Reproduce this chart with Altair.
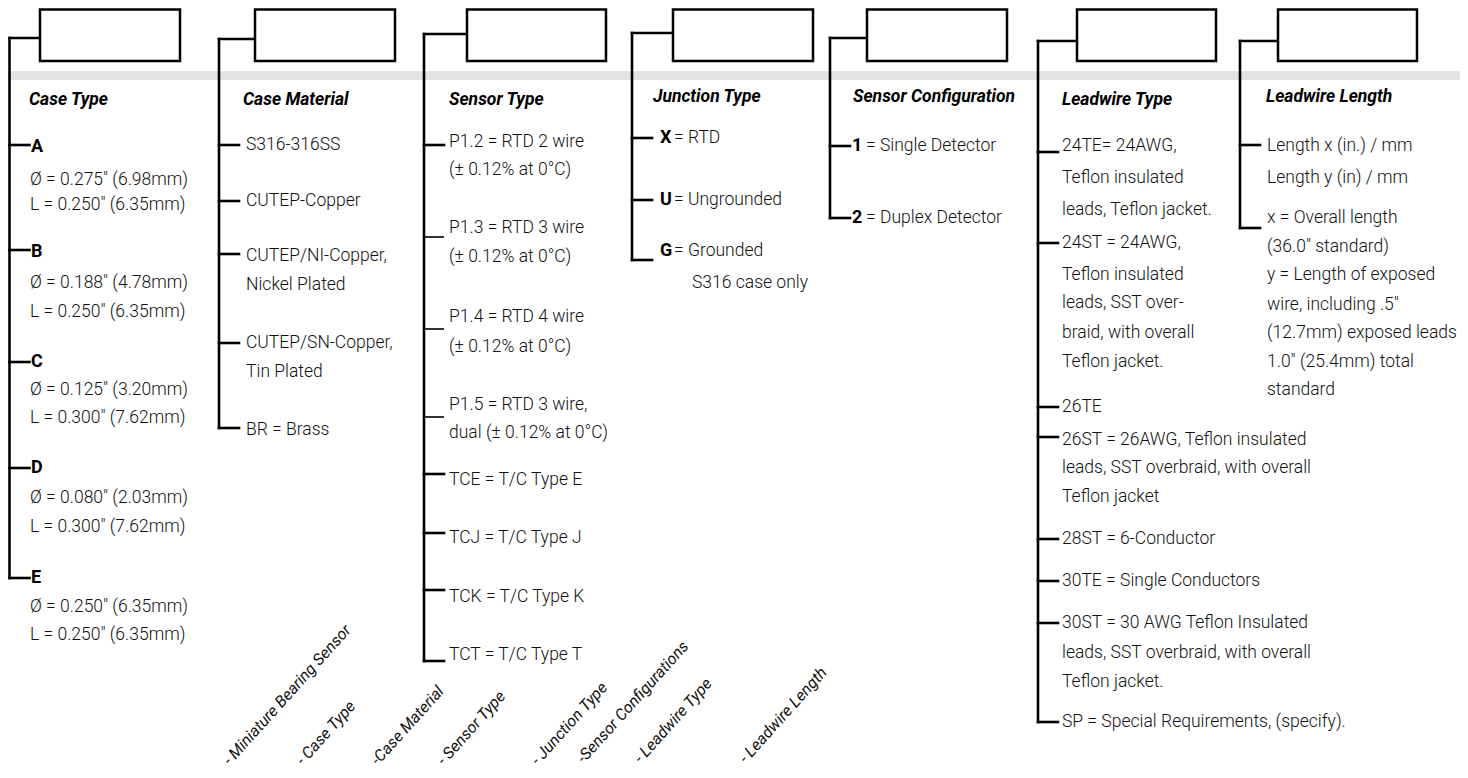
import altair as alt
import pandas as pd

FONT = "Roboto, Liberation Sans, sans-serif"

# ---- header boxes (one per code position) ----
box_left = [40, 255, 467, 673, 867, 1077, 1278]
box_right = [180, 395, 606, 813, 1007, 1216, 1417]
box_top = [9.5] * 7
box_bottom = [61] * 7

# ---- bracket spines ----
bracket_x = [9.5, 219, 424, 632, 830, 1038, 1240]
bracket_top = [38, 39, 34, 33, 38, 41, 41]
bracket_bottom = [578, 428, 661, 260, 218, 722, 228]

# ---- tick positions on each spine (column index, y) ----
tick_col = [0, 0, 0, 0, 0,
            1, 1, 1, 1, 1,
            2, 2, 2, 2, 2, 2, 2, 2,
            3, 3, 3,
            4, 4,
            5, 5, 5, 5, 5, 5, 5, 5,
            6, 6]
tick_y = [145, 250, 362, 468, 578,
          145, 201, 254, 343, 428,
          145, 237, 329, 417, 474, 533, 590, 661,
          138, 200, 260,
          146, 218,
          152, 243, 407, 437, 539, 581, 623, 722,
          145, 228]
thin_tick = [False] * 11 + [True, True, True] + [False] * 19

# ---- column titles ----
titles = ["Case Type", "Case Material", "Sensor Type", "Junction Type",
          "Sensor Configuration", "Leadwire Type", "Leadwire Length"]
title_x = [29, 243, 449, 653, 853, 1062, 1266]
title_y = [100, 100, 100, 97, 97, 100, 97]

# ---- bold codes ----
bold_text = ["A", "B", "C", "D", "E", "X", "U", "G", "1", "2"]
bold_x = [31, 31, 31, 31, 31, 660, 660, 660, 852, 852]
bold_y = [147, 252, 362, 468, 578, 138, 200, 251, 146, 218]

# ---- plain descriptions ----
body_text = [
    "Ø = 0.275″ (6.98mm)", "L = 0.250″ (6.35mm)",
    "Ø = 0.188″ (4.78mm)", "L = 0.250″ (6.35mm)",
    "Ø = 0.125″ (3.20mm)", "L = 0.300″ (7.62mm)",
    "Ø = 0.080″ (2.03mm)", "L = 0.300″ (7.62mm)",
    "Ø = 0.250″ (6.35mm)", "L = 0.250″ (6.35mm)",
    "S316-316SS", "CUTEP-Copper", "CUTEP/NI-Copper,", "Nickel Plated",
    "CUTEP/SN-Copper,", "Tin Plated", "BR = Brass",
    "P1.2 = RTD 2 wire", "(± 0.12% at 0°C)",
    "P1.3 = RTD 3 wire", "(± 0.12% at 0°C)",
    "P1.4 = RTD 4 wire", "(± 0.12% at 0°C)",
    "P1.5 = RTD 3 wire,", "dual (± 0.12% at 0°C)",
    "TCE = T/C Type E", "TCJ = T/C Type J", "TCK = T/C Type K", "TCT = T/C Type T",
    "= RTD", "= Ungrounded", "= Grounded", "S316 case only",
    "= Single Detector", "= Duplex Detector",
    "24TE= 24AWG,", "Teflon insulated", "leads, Teflon jacket.",
    "24ST = 24AWG,", "Teflon insulated", "leads, SST over-", "braid, with overall", "Teflon jacket.",
    "26TE",
    "26ST = 26AWG, Teflon insulated", "leads, SST overbraid, with overall", "Teflon jacket",
    "28ST = 6-Conductor", "30TE = Single Conductors",
    "30ST = 30 AWG Teflon Insulated", "leads, SST overbraid, with overall", "Teflon jacket.",
    "SP = Special Requirements, (specify).",
    "Length x (in.) / mm", "Length y (in) / mm", "x = Overall length", "(36.0″ standard)",
    "y = Length of exposed", "wire, including .5″", "(12.7mm) exposed leads",
    "1.0″ (25.4mm) total", "standard",
]
body_x = ([30] * 10 + [246] * 7 + [449] * 12 + [674, 674, 674, 692] + [866, 866]
          + [1062] * 18 + [1267] * 9)
body_y = [180, 205, 283, 312, 390, 418, 498, 527, 607, 635,
          145, 201, 256, 285, 343, 372, 430,
          142, 170, 228, 257, 317, 347, 405, 433, 480, 538, 597, 655,
          138, 200, 251, 283,
          146, 218,
          146, 178, 210, 243, 275, 303, 333, 362, 407, 440, 468, 497,
          539, 581, 623, 653, 682, 722,
          146, 178, 218, 247, 275, 305, 333, 362, 390]

# ---- slanted legend along the bottom ----
slant_text = ["- Miniature Bearing Sensor", "- Case Type", "-Case Material", "- Sensor Type",
              "- Junction Type", "-Sensor Configurations", "- Leadwire Type", "- Leadwire Length"]
slant_x = [230, 303, 378, 444, 538, 584, 641, 746]
slant_y = [766, 766, 766, 766, 766, 764, 764, 764]

# ---------- build tables ----------
xs = alt.Scale(domain=[8, 1460], nice=False, zero=False)
ys = alt.Scale(domain=[8, 770], reverse=True, nice=False, zero=False)

def X(f):
    return alt.X(f, type="quantitative", scale=xs, axis=None)

def Y(f):
    return alt.Y(f, type="quantitative", scale=ys, axis=None)

band = pd.DataFrame({"x": [8], "x2": [1460], "y": [71], "y2": [80]})
boxes = pd.DataFrame({"x": box_left, "x2": box_right, "y": box_top, "y2": box_bottom})

rules = []
for i, bx in enumerate(bracket_x):
    rules.append({"x": bx, "x2": bx, "y": bracket_top[i], "y2": bracket_bottom[i], "thin": False})
    rules.append({"x": bx, "x2": box_left[i], "y": bracket_top[i], "y2": bracket_top[i], "thin": False})
for c, ty, th in zip(tick_col, tick_y, thin_tick):
    bx = bracket_x[c]
    rules.append({"x": bx, "x2": bx + 20, "y": ty, "y2": ty, "thin": th})
rules = pd.DataFrame(rules)

titles_df = pd.DataFrame({"t": titles, "x": title_x, "y": title_y})
bold_df = pd.DataFrame({"t": bold_text, "x": bold_x, "y": bold_y})
body_df = pd.DataFrame({"t": body_text, "x": body_x, "y": body_y})
slant_df = pd.DataFrame({"t": slant_text, "x": slant_x, "y": slant_y})

band_layer = alt.Chart(band).mark_rect(color="#e3e3e3").encode(
    x=X("x"), x2="x2", y=Y("y"), y2="y2")
box_layer = alt.Chart(boxes).mark_rect(fill="white", stroke="black", strokeWidth=2.5).encode(
    x=X("x"), x2="x2", y=Y("y"), y2="y2")
rule_thick = alt.Chart(rules[~rules["thin"]]).mark_rule(
    color="black", strokeWidth=2.6, strokeCap="square").encode(
    x=X("x"), x2="x2", y=Y("y"), y2="y2")
rule_thin = alt.Chart(rules[rules["thin"]]).mark_rule(
    color="black", strokeWidth=1.6).encode(
    x=X("x"), x2="x2", y=Y("y"), y2="y2")

title_layer = alt.Chart(titles_df).mark_text(
    align="left", baseline="middle", font=FONT, fontSize=17.5,
    fontWeight="bold", fontStyle="italic", color="black").encode(
    x=X("x"), y=Y("y"), text="t:N")
bold_layer = alt.Chart(bold_df).mark_text(
    align="left", baseline="middle", font=FONT, fontSize=18,
    fontWeight="bold", color="black").encode(
    x=X("x"), y=Y("y"), text="t:N")
body_layer = alt.Chart(body_df).mark_text(
    align="left", baseline="middle", font=FONT, fontSize=17.5, fontWeight=300,
    color="#111111").encode(
    x=X("x"), y=Y("y"), text="t:N")
slant_layer = alt.Chart(slant_df).mark_text(
    align="left", baseline="alphabetic", font=FONT, fontSize=16,
    fontStyle="italic", angle=312, color="#111111").encode(
    x=X("x"), y=Y("y"), text="t:N")

chart = alt.layer(
    band_layer, rule_thick, rule_thin, box_layer,
    title_layer, bold_layer, body_layer, slant_layer
).properties(
    width=1452, height=762, padding=0, autosize="none", background="white"
).configure_view(stroke=None)

chart.save("out.html", embed_options={"renderer": "svg", "actions": False})
